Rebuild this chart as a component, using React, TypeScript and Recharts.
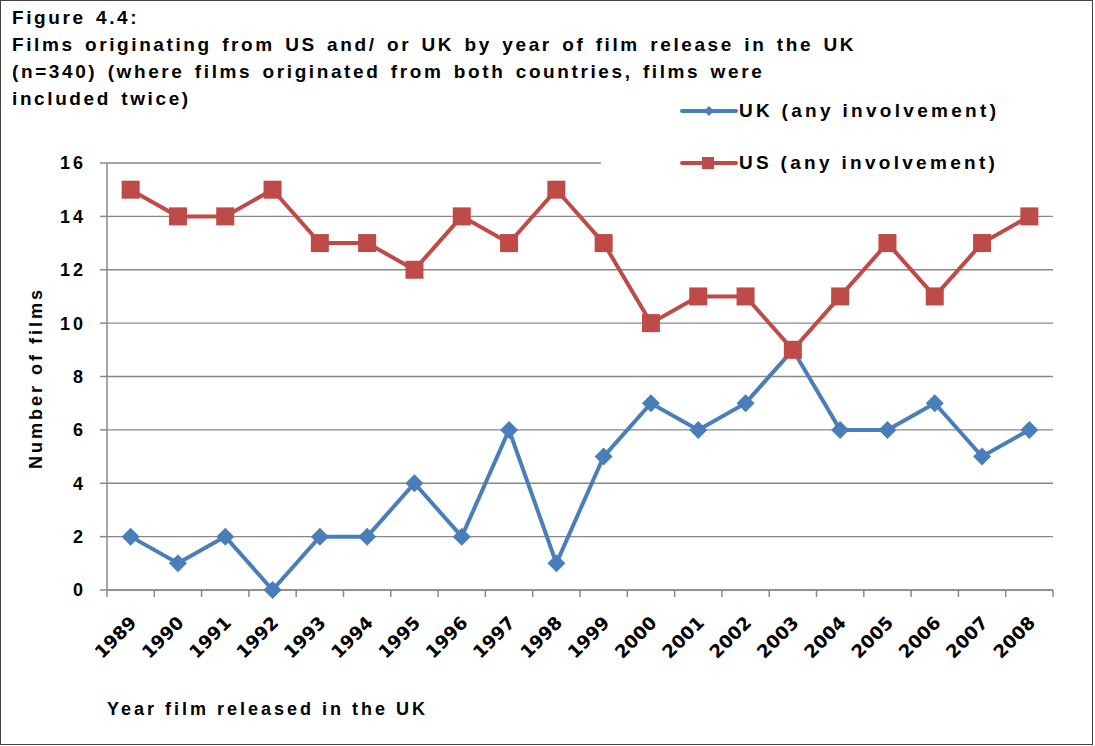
import { LineChart, Line, XAxis, YAxis, CartesianGrid, Legend } from 'recharts'

const years = ['1989', '1990', '1991', '1992', '1993', '1994', '1995', '1996', '1997', '1998', '1999', '2000', '2001', '2002', '2003', '2004', '2005', '2006', '2007', '2008']
const ukFilms = [2, 1, 2, 0, 2, 2, 4, 2, 6, 1, 5, 7, 6, 7, 9, 6, 6, 7, 5, 6]
const usFilms = [15, 14, 14, 15, 13, 13, 12, 14, 13, 15, 13, 10, 11, 11, 9, 11, 13, 11, 13, 14]
const yTicks = [0, 2, 4, 6, 8, 10, 12, 14, 16]

const titleLines = [
  'Figure 4.4:',
  'Films originating from US and/ or UK by year of film release in the UK',
  '(n=340) (where films originated from both countries, films were',
  'included twice)',
]

const data = years.map((year, i) => ({ year, uk: ukFilms[i], us: usFilms[i] }))

const W = 1095
const H = 746
const PLOT_LEFT = 107
const PLOT_RIGHT = 1053
const PLOT_TOP = 163
const PLOT_BOTTOM = 590
const BAND = (PLOT_RIGHT - PLOT_LEFT) / years.length

const BLUE = '#4A7EBB'
const RED = '#BE4B48'
const GRID = '#888888'
const FONT = '"Liberation Sans", Arial, sans-serif'

function Diamond({ cx, cy }: any) {
  if (cx == null || cy == null) return null
  const r = 9
  return <path d={`M${cx},${cy - r}L${cx + r},${cy}L${cx},${cy + r}L${cx - r},${cy}Z`} fill={BLUE} />
}

function Square({ cx, cy }: any) {
  if (cx == null || cy == null) return null
  const s = 9
  return <rect x={cx - s} y={cy - s} width={s * 2} height={s * 2} fill={RED} />
}

function YearTick(props: any) {
  const { x, y, payload, index } = props
  const half = BAND / 2
  const ax = x + 7
  const ay = y + 34
  return (
    <g>
      <line x1={x - half} x2={x - half} y1={y} y2={y + 7} stroke={GRID} strokeWidth={1.5} />
      {index === years.length - 1 && (
        <line x1={x + half} x2={x + half} y1={y} y2={y + 7} stroke={GRID} strokeWidth={1.5} />
      )}
      <text
        x={ax}
        y={ay}
        transform={`rotate(-45 ${ax} ${ay})`}
        textAnchor="end"
        fontFamily='"DejaVu Sans", Verdana, sans-serif'
        fontWeight="bold"
        fontSize={18}
        fill="#000"
      >
        {payload.value}
      </text>
    </g>
  )
}

function LegendBox({ payload }: any) {
  const rows = payload ?? []
  return (
    <div style={{ width: 460, height: 105, background: '#fff', position: 'relative' }}>
      {rows.map((entry: any, i: number) => {
        const isUk = entry.dataKey === 'uk'
        return (
          <div key={entry.value} style={{ position: 'absolute', left: 79, top: 14 + i * 52, display: 'flex', alignItems: 'center', height: 22 }}>
            <svg width={58} height={20}>
              <line x1={2} x2={56} y1={10} y2={10} stroke={entry.color} strokeWidth={4} strokeLinecap="round" />
              {isUk ? (
                <path d="M29,5L34,10L29,15L24,10Z" fill={entry.color} />
              ) : (
                <rect x={22} y={4} width={12} height={12} fill={entry.color} />
              )}
            </svg>
            <span style={{ fontFamily: FONT, fontWeight: 'bold', fontSize: 19, letterSpacing: 3.3, color: '#000', marginLeft: 1 }}>
              {entry.value}
            </span>
          </div>
        )
      })}
    </div>
  )
}

export default function App() {
  return (
    <div style={{ position: 'absolute', left: 0, top: 0, width: W, height: H, background: '#fff' }}>
      <div style={{ position: 'absolute', left: 0, top: 0, width: W - 2, height: H - 1, border: '1.5px solid #444', boxSizing: 'border-box' }} />
      <div style={{ position: 'absolute', left: 12, top: 4, fontFamily: FONT, fontWeight: 'bold', fontSize: 19, letterSpacing: 2.6, wordSpacing: 2.5, lineHeight: '27px', color: '#000' }}>
        {titleLines.map((t) => (
          <div key={t}>{t}</div>
        ))}
      </div>
      <div style={{ position: 'absolute', left: 0, top: 0 }}>
        <LineChart
          width={W}
          height={H}
          data={data}
          margin={{ top: PLOT_TOP, right: W - PLOT_RIGHT, bottom: H - PLOT_BOTTOM - 100, left: PLOT_LEFT - 60 }}
        >
          <CartesianGrid vertical={false} stroke={GRID} strokeWidth={1.3} />
          <XAxis
            dataKey="year"
            height={100}
            padding={{ left: BAND / 2, right: BAND / 2 }}
            tickLine={false}
            tickSize={0}
            tickMargin={0}
            interval={0}
            axisLine={{ stroke: GRID, strokeWidth: 1.5 }}
            tick={<YearTick />}
          />
          <YAxis
            width={60}
            domain={[0, 16]}
            ticks={yTicks}
            interval={0}
            tickSize={7}
            tickMargin={14}
            axisLine={{ stroke: GRID, strokeWidth: 1.5 }}
            tickLine={{ stroke: GRID, strokeWidth: 1.5 }}
            tick={{ fontFamily: FONT, fontWeight: 'bold', fontSize: 18, fill: '#000', letterSpacing: 3 }}
          />
          <Legend
            layout="horizontal"
            verticalAlign="middle"
            align="center"
            content={<LegendBox />}
            wrapperStyle={{ position: 'absolute', left: 601, top: 86, width: 460, height: 105 }}
          />
          <Line
            type="linear"
            dataKey="uk"
            name="UK (any involvement)"
            stroke={BLUE}
            strokeWidth={4}
            dot={<Diamond />}
            activeDot={false}
            isAnimationActive={false}
          />
          <Line
            type="linear"
            dataKey="us"
            name="US (any involvement)"
            stroke={RED}
            strokeWidth={4}
            dot={<Square />}
            activeDot={false}
            isAnimationActive={false}
          />
        </LineChart>
      </div>
      <div
        style={{
          position: 'absolute',
          left: 36,
          top: 378,
          transform: 'translate(-50%, -50%) rotate(-90deg)',
          whiteSpace: 'nowrap',
          fontFamily: FONT,
          fontWeight: 'bold',
          fontSize: 18,
          letterSpacing: 3,
          color: '#000',
        }}
      >
        Number of films
      </div>
      <div style={{ position: 'absolute', left: 107, top: 699, fontFamily: FONT, fontWeight: 'bold', fontSize: 18, letterSpacing: 3, color: '#000' }}>
        Year film released in the UK
      </div>
    </div>
  )
}
